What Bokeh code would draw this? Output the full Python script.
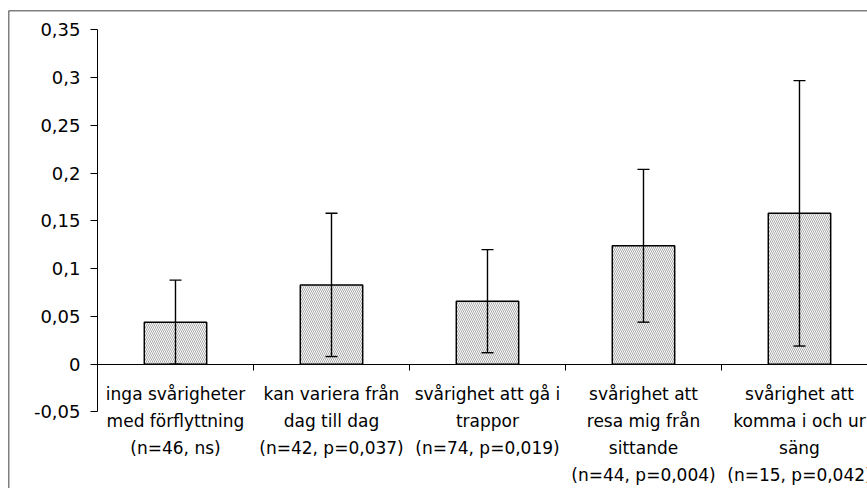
from bokeh.plotting import figure
from bokeh.models import (ColumnDataSource, Range1d, LinearAxis, FixedTicker,
                          Whisker, TeeHead, Span)
from bokeh.core.properties import value
from bokeh.embed import file_html
from bokeh.resources import INLINE

# ---- data ----
categories = [
    "inga svårigheter\nmed förflyttning\n(n=46, ns)",
    "kan variera från\ndag till dag\n(n=42, p=0,037)",
    "svårighet att gå i\ntrappor\n(n=74, p=0,019)",
    "svårighet att\nresa mig från\nsittande\n(n=44, p=0,004)",
    "svårighet att\nkomma i och ur\nsäng\n(n=15, p=0,042)",
]
values = [0.044, 0.083, 0.066, 0.124, 0.158]
errors = [0.044, 0.075, 0.054, 0.080, 0.139]
y_ticks = [-0.05, 0, 0.05, 0.1, 0.15, 0.2, 0.25, 0.3, 0.35]
y_tick_labels = ["-0,05", "0", "0,05", "0,1", "0,15", "0,2", "0,25", "0,3", "0,35"]

FONT = "DejaVu Sans"

xs = [i + 0.5 for i in range(len(categories))]
src = ColumnDataSource(dict(
    x=xs,
    top=values,
    upper=[v + e for v, e in zip(values, errors)],
    lower=[v - e for v, e in zip(values, errors)],
    label=categories,
    zero=[0] * len(categories),
))

p = figure(width=867, height=488, output_backend="svg", toolbar_location=None,
           x_range=Range1d(-0.5705, 4.936), y_range=Range1d(-0.1302, 0.3704),
           x_axis_type=None, y_axis_type=None,
           min_border_left=8, min_border_top=10, min_border_right=0, min_border_bottom=0)
p.background_fill_color = "white"
p.border_fill_color = "white"
p.outline_line_color = None
p.grid.visible = False

# bars
p.vbar(x="x", top="top", bottom=0, width=0.4, source=src,
       fill_color="white", hatch_pattern="\\", hatch_color="#a8a8a8",
       hatch_scale=4, hatch_weight=1, line_color="black", line_width=1.5)

# error bars
w = Whisker(base="x", upper="upper", lower="lower", source=src,
            line_color="black", line_width=1.4,
            upper_head=TeeHead(size=12, line_color="black", line_width=1.4),
            lower_head=TeeHead(size=12, line_color="black", line_width=1.4))
w.level = "overlay"
p.add_layout(w)

# y axis
yax = LinearAxis(fixed_location=0, bounds=(y_ticks[0], y_ticks[-1]),
                 ticker=FixedTicker(ticks=y_ticks),
                 major_label_overrides=dict(zip(y_ticks, y_tick_labels)))
yax.major_tick_out = 7
yax.major_tick_in = 0
yax.minor_tick_out = 0
yax.minor_tick_in = 0
yax.axis_line_color = "black"
yax.major_tick_line_color = "black"
yax.major_label_text_font = FONT
yax.major_label_text_font_size = "18px"
yax.major_label_text_color = "black"
yax.major_label_standoff = 10
p.add_layout(yax, "left")

# x axis (zero line with category boundary ticks)
xax = LinearAxis(fixed_location=0, bounds=(0, len(categories)),
                 ticker=FixedTicker(ticks=list(range(len(categories) + 1))))
xax.major_tick_out = 6
xax.major_tick_in = 0
xax.minor_tick_out = 0
xax.minor_tick_in = 0
xax.axis_line_color = "black"
xax.major_tick_line_color = "black"
xax.major_label_text_font_size = "0px"
xax.major_label_text_alpha = 0
p.add_layout(xax, "below")

# category labels
p.text(x="x", y="zero", text="label", source=src, text_align="center",
       text_baseline="top", y_offset=20, text_font=value(FONT),
       text_font_size="17px", text_line_height=1.35, text_color="black")

# outer chart frame (top and left edges visible)
p.add_layout(Span(location=0.3704, dimension="width", line_color="black", line_width=1.5))
p.add_layout(Span(location=-0.5705, dimension="height", line_color="black", line_width=1.5))

open("out.html", "w").write(file_html(p, INLINE))
